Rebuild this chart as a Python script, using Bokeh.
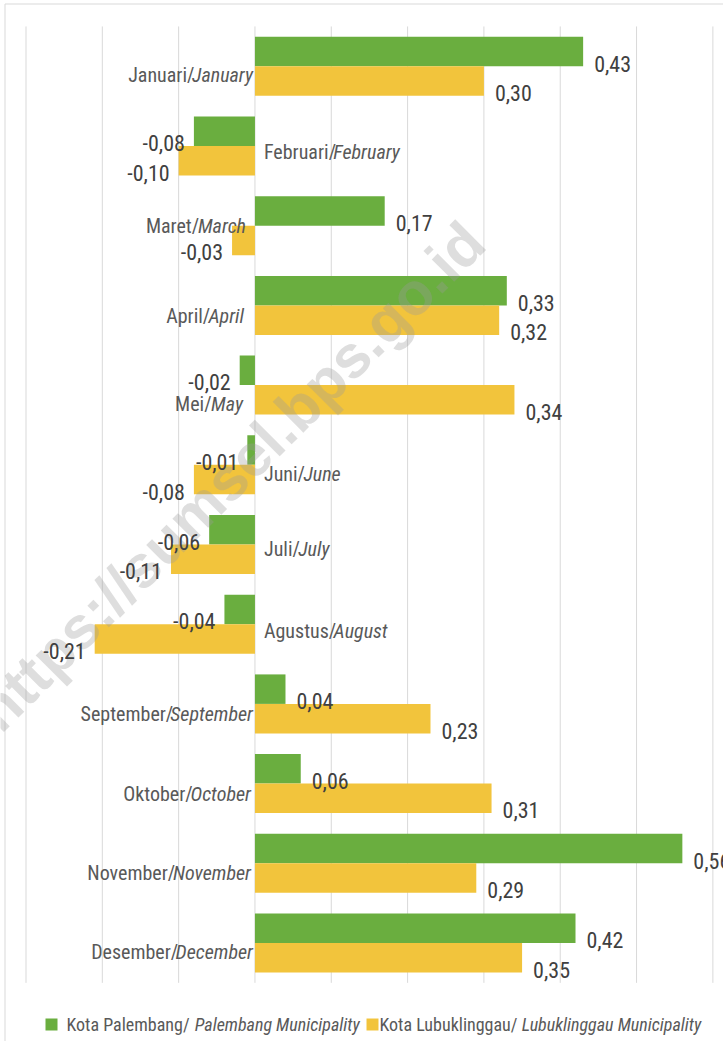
import math
from bokeh.plotting import figure
from bokeh.models import Range1d
from bokeh.core.properties import value
from bokeh.embed import file_html
from bokeh.resources import INLINE

# ---------------- data ----------------
months_id = ["Januari", "Februari", "Maret", "April", "Mei", "Juni", "Juli",
             "Agustus", "September", "Oktober", "November", "Desember"]
months_en = ["January", "February", "March", "April", "May", "June", "July",
             "August", "September", "October", "November", "December"]
palembang = [0.43, -0.08, 0.17, 0.33, -0.02, -0.01, -0.06, -0.04, 0.04, 0.06, 0.56, 0.42]
lubuklinggau = [0.30, -0.10, -0.03, 0.32, 0.34, -0.08, -0.11, -0.21, 0.23, 0.31, 0.29, 0.35]
x_ticks = [-0.3, -0.2, -0.1, 0.0, 0.1, 0.2, 0.3, 0.4, 0.5, 0.6]
series_regular = ["Kota Palembang/ ", "Kota Lubuklinggau/ "]
series_italic = ["Palembang Municipality", "Lubuklinggau Municipality"]
watermark = "https://sumsel.bps.go.id"

# ---------------- style / layout ----------------
GREEN = "#6AAE3F"
YELLOW = "#F2C43C"
GRID = "#D9D9D9"
LABEL_C = "#595959"
VALUE_C = "#404040"
FONT = "Roboto Condensed"

W, H = 723, 1041
PXX = 763.2          # px per 1.0 on x
PXY = 79.7           # px per category
x0 = -0.3 - 25.5 / PXX
x1 = x0 + W / PXX
y_top = -65.8 / PXY
y_bot = y_top + H / PXY
BAR_H = 0.37
cat_nudge_px = [9, 6, 0, 11, 19, 9, 4, 7, 10, 10, 10, 9]
cat_right_gap = [-2, 0, -9, -11, -12, 0, 0, 0, -2, -4, -4, -2]


def px2x(px):
    return x0 + px / PXX


def px2y(py):
    return y_top + py / PXY


# Roboto advance widths (units / 2048), scaled for Roboto Condensed
ROBOTO = {' ': 507, ',': 393, '-': 553, '.': 527, '/': 823, ':': 485,
          'A': 1336, 'B': 1275, 'C': 1333, 'D': 1343, 'E': 1164, 'F': 1132, 'G': 1395,
          'H': 1460, 'I': 557, 'J': 1130, 'K': 1284, 'L': 1102, 'M': 1788, 'N': 1460,
          'O': 1408, 'P': 1292, 'Q': 1408, 'R': 1261, 'S': 1217, 'T': 1222, 'U': 1328,
          'V': 1303, 'W': 1817, 'X': 1284, 'Y': 1230, 'Z': 1226,
          'a': 1088, 'b': 1122, 'c': 1045, 'd': 1127, 'e': 1057, 'f': 694, 'g': 1120,
          'h': 1102, 'i': 486, 'j': 478, 'k': 1014, 'l': 486, 'm': 1752, 'n': 1104,
          'o': 1139, 'p': 1122, 'q': 1129, 'r': 677, 's': 1031, 't': 654, 'u': 1102,
          'v': 969, 'w': 1502, 'x': 991, 'y': 946, 'z': 991}


def text_w(s, size, italic=False):
    f = 0.84 if italic else 0.87
    return sum(ROBOTO.get(c, 1150) for c in s) / 2048.0 * f * size


def fmt(v):
    return ("%.2f" % v).replace(".", ",")


p = figure(width=W, height=H, output_backend="svg", toolbar_location=None,
           x_range=Range1d(x0, x1), y_range=Range1d(y_bot, y_top),
           x_axis_location=None, y_axis_location=None,
           min_border=0, min_border_left=0, min_border_right=0,
           min_border_top=0, min_border_bottom=0)
p.grid.visible = False
p.outline_line_color = None
p.background_fill_color = "white"
p.border_fill_color = "white"

# chart border (top and left edges visible)
p.segment(x0=[px2x(4.5), px2x(4.5)], x1=[px2x(4.5), px2x(740)],
          y0=[px2y(3.5), px2y(3.5)], y1=[px2y(1060), px2y(3.5)],
          line_color=GRID, line_width=1)

# gridlines
n = len(months_id)
p.segment(x0=x_ticks, x1=x_ticks, y0=[-0.5] * len(x_ticks), y1=[n - 0.5] * len(x_ticks),
          line_color=GRID, line_width=1)

idx = list(range(n))
g_y = [i - BAR_H / 2 for i in idx]
y_y = [i + BAR_H / 2 for i in idx]
p.hbar(y=g_y, left=0, right=palembang, height=BAR_H, fill_color=GREEN, line_color=None)
p.hbar(y=y_y, left=0, right=lubuklinggau, height=BAR_H, fill_color=YELLOW, line_color=None)

# watermark
p.text(x=[px2x(230)], y=[px2y(476)], text=[watermark], angle=math.radians(45),
       text_font=value("Liberation Sans"), text_font_style="bold", text_font_size="60px",
       text_color="#9a9a9a", text_alpha=0.33, text_align="center", text_baseline="middle")

# value labels
VS = 22
dy = 12 / PXY
for vals, ys in ((palembang, g_y), (lubuklinggau, y_y)):
    pos = [(v, y) for v, y in zip(vals, ys) if v >= 0]
    neg = [(v, y) for v, y in zip(vals, ys) if v < 0]
    if pos:
        p.text(x=[v for v, _ in pos], y=[y + dy for _, y in pos], text=[fmt(v) for v, _ in pos],
               x_offset=11, text_align="left", text_baseline="middle",
               text_font=value(FONT), text_font_size="%dpx" % VS, text_color=VALUE_C)
    if neg:
        p.text(x=[v for v, _ in neg], y=[y + dy for _, y in neg], text=[fmt(v) for v, _ in neg],
               x_offset=-9, text_align="right", text_baseline="middle",
               text_font=value(FONT), text_font_size="%dpx" % VS, text_color=VALUE_C)

# category labels (regular Indonesian + italic English)
CS = 20
for i in idx:
    reg = months_id[i] + "/"
    ita = months_en[i]
    yy = i + cat_nudge_px[i] / PXY
    if palembang[i] < 0 and lubuklinggau[i] < 0:
        p.text(x=[0], y=[yy], text=[reg], x_offset=9, text_align="left", text_baseline="middle",
               text_font=value(FONT), text_font_size="%dpx" % CS, text_color=LABEL_C)
        p.text(x=[0], y=[yy], text=[ita], x_offset=9 + text_w(reg, CS), text_align="left",
               text_baseline="middle", text_font=value(FONT), text_font_style="italic",
               text_font_size="%dpx" % CS, text_color=LABEL_C)
    else:
        off = cat_right_gap[i]
        p.text(x=[0], y=[yy], text=[ita], x_offset=off, text_align="right", text_baseline="middle",
               text_font=value(FONT), text_font_style="italic",
               text_font_size="%dpx" % CS, text_color=LABEL_C)
        p.text(x=[0], y=[yy], text=[reg], x_offset=off - text_w(ita, CS, True), text_align="right",
               text_baseline="middle", text_font=value(FONT),
               text_font_size="%dpx" % CS, text_color=LABEL_C)

# legend
LS = 18
ly = px2y(1024)
sq_px = [51, 372]
tx_px = [66, 379]
for k, col in enumerate([GREEN, YELLOW]):
    p.scatter(x=[px2x(sq_px[k])], y=[ly], marker="square", size=12,
              fill_color=col, line_color=None)
    p.text(x=[x0], y=[ly], text=[series_regular[k]], x_offset=tx_px[k], text_align="left",
           text_baseline="middle", text_font=value(FONT), text_font_size="%dpx" % LS,
           text_color=LABEL_C)
    p.text(x=[x0], y=[ly], text=[series_italic[k]],
           x_offset=tx_px[k] + text_w(series_regular[k], LS) + 5,
           text_align="left", text_baseline="middle", text_font=value(FONT),
           text_font_style="italic", text_font_size="%dpx" % LS, text_color=LABEL_C)

open("out.html", "w").write(file_html(p, INLINE))
